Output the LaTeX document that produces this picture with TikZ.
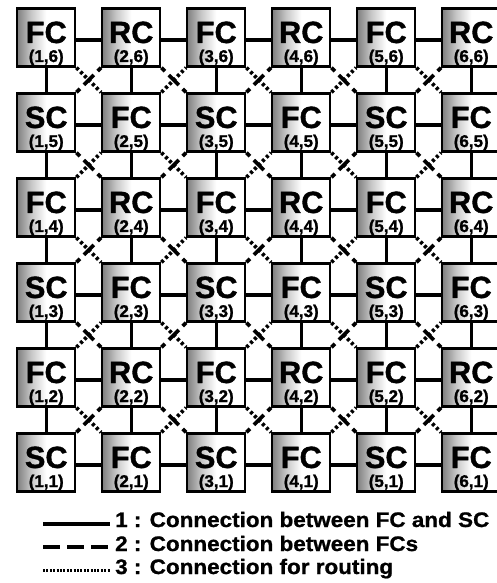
\documentclass[tikz,border=0pt]{standalone}
\usepackage{fontspec}
\newfontfamily\cellfont[FakeBold=1.2]{Liberation Sans}
\newfontfamily\keyfont[FakeStretch=1.07,FakeBold=1]{Liberation Sans}

% halftone-like grey on the left of each cell
\pgfdeclarehorizontalshading{cellshade}{100bp}{color(0bp)=(black!50); color(25bp)=(black!50); color(37bp)=(black!22); color(50bp)=(white); color(100bp)=(white)}

\tikzset{
  cell/.style={draw, line width=2.4pt, minimum size=58pt, inner sep=0pt, shade, shading=cellshade},
  kind/.style={font=\cellfont\bfseries\fontsize{30.7}{31}\selectfont, anchor=base, inner sep=0pt},
  idx/.style={font=\cellfont\bfseries\fontsize{17}{17}\selectfont, anchor=base, inner sep=0pt},
  key/.style={font=\keyfont\bfseries\fontsize{21}{21}\selectfont, anchor=base west, inner sep=0pt},
  link/.style={line width=3.2pt},
  route/.style={line width=3.8pt, dash pattern=on 3pt off 2.6pt},
  fclink/.style={line width=3.8pt, dash pattern=on 5pt off 5.5pt on 14pt off 5.5pt on 6pt}
}

\begin{document}
\begin{tikzpicture}[x=85pt, y=85pt]
  \useasboundingbox (0.4559,-0.4176) rectangle (6.3029,6.4412);
  % cells, one row at a time
  \foreach \j/\a/\b in {6/FC/RC,5/SC/FC,4/FC/RC,3/SC/FC,2/FC/RC,1/SC/FC}
    \foreach \i/\t in {1/\a,2/\b,3/\a,4/\b,5/\a,6/\b} {
      \node[cell] (c\i\j) at (\i,\j) {};
      \node[kind] (t\i\j) at ([yshift=-5.5pt]c\i\j.center) {\t};
      \node[idx] (n\i\j) at ([yshift=-24.5pt]c\i\j.center) {(\i,\j)};
    }
  % type 1: row and column neighbours
  \foreach \j in {1,...,6}
    \foreach \i/\k in {1/2,2/3,3/4,4/5,5/6}
      \draw[link] ([yshift=-2.5pt]c\i\j.east) -- ([yshift=-2.5pt]c\k\j.west);
  \foreach \i in {1,...,6}
    \foreach \j/\l in {1/2,2/3,3/4,4/5,5/6}
      \draw[link] (c\i\l.south) -- (c\i\j.north);
  % diagonals: dotted between the FCs, dashed across
  \foreach \i/\k in {1/2,2/3,3/4,4/5,5/6}
    \foreach \j/\l in {1/2,2/3,3/4,4/5,5/6} {
      \pgfmathtruncatemacro\sm{\i+\j}
      \ifodd\sm
        \draw[route] (c\i\j.north east) -- (c\k\l.south west);
        \draw[fclink] (c\i\l.south east) -- (c\k\j.north west);
      \else
        \draw[route] (c\i\l.south east) -- (c\k\j.north west);
        \draw[fclink] (c\i\j.north east) -- (c\k\l.south west);
      \fi
    }
  % legend
  \coordinate (a1) at (0.962,0.2765); \coordinate (b1) at (1.75,0.2765);
  \coordinate (a2) at (0.962,0.0059); \coordinate (b2) at (1.75,0.0059);
  \coordinate (a3) at (0.962,-0.2647); \coordinate (b3) at (1.75,-0.2647);
  \draw[link] (a1) -- (b1);
  \draw[link, dash pattern=on 17pt off 7pt] (a2) -- (b2);
  \draw[line width=3pt, dash pattern=on 2pt off 1.4pt] (a3) -- (b3);
  \node[key] (k1) at (1.8088,0.2412) {1 : Connection between FC and SC};
  \node[key] (k2) at (1.8088,-0.0412) {2 : Connection between FCs};
  \node[key] (k3) at (1.8088,-0.3118) {3 : Connection for routing};
\end{tikzpicture}
\end{document}
